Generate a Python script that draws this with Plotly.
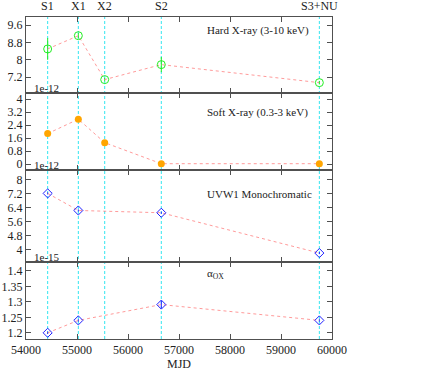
import plotly.graph_objects as go

# ---- data ----
epoch_labels = ["S1", "X1", "X2", "S2", "S3+NU"]
epoch_mjd = [54425, 55026, 55543, 56653, 59752]

hard_mjd = [54425, 55026, 55543, 56653, 59752]
hard_flux = [8.50, 9.11, 7.09, 7.78, 6.95]
hard_err = [0.50, 0.12, 0.08, 0.35, 0.08]

soft_mjd = [54425, 55026, 55543, 56653, 59752]
soft_flux = [1.88, 2.77, 1.32, 0.02, 0.02]
soft_err = [0.05, 0.05, 0.04, 0.01, 0.01]

uv_mjd = [54425, 55026, 56653, 59752]
uv_flux = [7.20, 6.23, 6.10, 3.81]
uv_err = [0.06, 0.06, 0.06, 0.06]

aox_mjd = [54425, 55026, 56653, 59752]
aox_val = [1.200, 1.240, 1.291, 1.240]
aox_err = [0.004, 0.004, 0.012, 0.004]

x_ticks = [54000, 55000, 56000, 57000, 58000, 59000, 60000]
x_text = ["54000", "55000", "56000", "57000", "58000", "59000", "60000"]
y1_ticks = [7.2, 8, 8.8, 9.6]
y2_ticks = [0, 0.8, 1.6, 2.4, 3.2, 4]
y3_ticks = [4, 4.8, 5.6, 6.4, 7.2, 8]
y4_ticks = [1.2, 1.25, 1.3, 1.35, 1.4]
y1_text = ["7.2", "8", "8.8", "9.6"]
y2_text = ["0", "0.8", "1.6", "2.4", "3.2", "4"]
y3_text = ["4", "4.8", "5.6", "6.4", "7.2", "8"]
y4_text = ["1.2", "1.25", "1.3", "1.35", "1.4"]

panel_titles = ["Hard X-ray (3-10 keV)", "Soft X-ray (0.3-3 keV)", "UVW1 Monochromatic", "α<sub>OX</sub>"]
multipliers = ["1e-12", "1e-12", "1e-15"]

FONT = "Liberation Serif"
LINE = dict(color="rgba(255,120,120,0.75)", width=1, dash="dot")
FRAME = "#505050"

W, HT = 421, 377
ML, MR, MT, MB = 26, 89, 17, 38
PW, PH = W - ML - MR, HT - MT - MB

fig = go.Figure()

def py(yp):  # pixel y (from top) -> paper fraction
    return (HT - MB - yp) / PH

def px(xp):
    return (xp - ML) / PW

doms = {
    1: [py(93.3), 1.0],
    2: [py(170), py(93.3)],
    3: [py(261.5), py(170)],
    4: [0.0, py(261.5)],
}

def add(row, xs, ys, errs, marker):
    fig.add_trace(go.Scatter(
        x=xs, y=ys, mode="lines+markers",
        line=LINE, marker=marker,
        error_y=dict(type="data", array=errs, color=marker["line"]["color"], thickness=1, width=0),
        xaxis="x" if row == 1 else f"x{row}", yaxis="y" if row == 1 else f"y{row}",
        showlegend=False))

add(1, hard_mjd, hard_flux, hard_err,
    dict(symbol="circle-open", size=8, color="#22ee22", line=dict(color="#22ee22", width=1)))
add(2, soft_mjd, soft_flux, soft_err,
    dict(symbol="circle", size=7, color="#ffa500", line=dict(color="#ffa500", width=0)))
add(3, uv_mjd, uv_flux, uv_err,
    dict(symbol="diamond-open", size=7, color="#2020ff", line=dict(color="#2020ff", width=1)))
add(4, aox_mjd, aox_val, aox_err,
    dict(symbol="diamond-open", size=7, color="#2020ff", line=dict(color="#2020ff", width=1)))

yranges = {1: [6.46, 9.97], 2: [-0.37, 4.37], 3: [3.33, 8.53], 4: [1.18, 1.43]}
yticks = {1: (y1_ticks, y1_text), 2: (y2_ticks, y2_text), 3: (y3_ticks, y3_text), 4: (y4_ticks, y4_text)}

layout = dict(
    width=W, height=HT,
    margin=dict(l=ML, r=MR, t=MT, b=MB, autoexpand=False),
    paper_bgcolor="white", plot_bgcolor="white",
    font=dict(family=FONT, size=11, color="#222"),
)
for r in range(1, 5):
    xk = "xaxis" if r == 1 else f"xaxis{r}"
    yk = "yaxis" if r == 1 else f"yaxis{r}"
    layout[xk] = dict(
        range=[54000, 60000], tickvals=x_ticks, ticktext=x_text, ticks="inside", ticklen=5,
        tickcolor=FRAME, showline=True, linecolor=FRAME, linewidth=1, mirror="allticks",
        showgrid=False, zeroline=False, showticklabels=(r == 4), automargin=False,
        anchor="y" if r == 1 else f"y{r}",
        tickfont=dict(family=FONT, size=12),
    )
    if r != 1:
        layout[xk]["matches"] = "x"
    tv, tt = yticks[r]
    layout[yk] = dict(
        domain=doms[r], range=yranges[r], tickvals=tv, ticktext=tt,
        ticks="inside", ticklen=5, tickcolor=FRAME, showline=True, linecolor=FRAME,
        linewidth=1, mirror="allticks", showgrid=False, zeroline=False, automargin=False,
        anchor="x" if r == 1 else f"x{r}",
        tickfont=dict(family=FONT, size=12),
    )
layout["xaxis4"]["title"] = dict(text="MJD", font=dict(family=FONT, size=12), standoff=0)
fig.update_layout(**layout)

# vertical dashed epoch lines and labels
for m, lab in zip(epoch_mjd, epoch_labels):
    fig.add_shape(type="line", xref="x4", yref="paper", x0=m, x1=m, y0=0, y1=1.0,
                  line=dict(color="#33e6f0", width=1, dash="3px,2px"), layer="below")
    fig.add_annotation(x=m, xref="x", y=py(6), yref="paper", text=lab,
                       showarrow=False, yanchor="middle", xanchor="center",
                       font=dict(family=FONT, size=12, color="#222"))

# panel titles
title_y = [30, 112.7, 194, 274]
for t, yp in zip(panel_titles, title_y):
    fig.add_annotation(x=px(205), y=py(yp), xref="paper", yref="paper", text=t, showarrow=False,
                       xanchor="left", yanchor="middle", font=dict(family=FONT, size=11, color="#222"))

# multipliers
mult_y = [88, 164.5, 256.5]
for t, yp in zip(multipliers, mult_y):
    fig.add_annotation(x=px(32), y=py(yp), xref="paper", yref="paper", text=t, showarrow=False,
                       xanchor="left", yanchor="middle", font=dict(family=FONT, size=11, color="#222"))

fig.write_html("out.html", config={"displayModeBar": False},
               post_script="document.body.style.margin='0';document.body.style.padding='0';")
